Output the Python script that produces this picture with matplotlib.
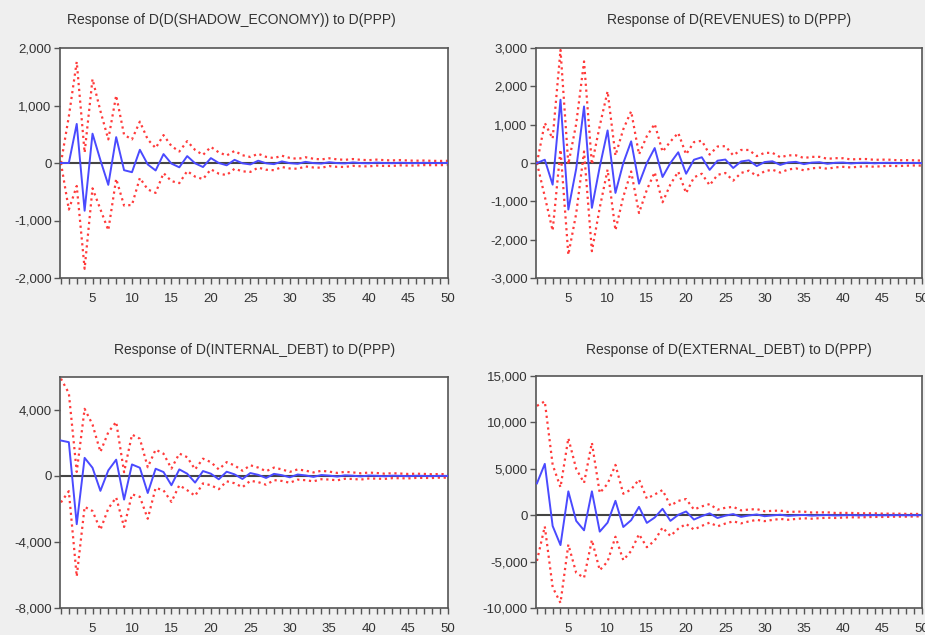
import matplotlib.pyplot as plt
from matplotlib.ticker import FuncFormatter, MultipleLocator

plt.rcParams['font.family'] = ['Liberation Sans', 'DejaVu Sans']

periods = list(range(1, 51))

# impulse responses to a D(PPP) shock and their +/- 2 S.E. widths
resp_shadow = [0, 0, 680, -830, 510, 50, -380, 450, -125, -160,
               230, -25, -130, 155, -10, -75, 120, -5, -70, 85,
               0, -40, 55, -5, -25, 40, -5, -20, 28, -3,
               -14, 20, -2, -10, 14, -2, -7, 10, -1, -5,
               7, -1, -3, 5, -1, -2, 3, 0, -1, 2]
se2_shadow = [0, 810, 1080, 1010, 950, 855, 790, 725, 615, 570,
              490, 435, 390, 330, 305, 275, 260, 232, 210, 195,
              185, 170, 155, 140, 130, 120, 112, 105, 98, 92,
              86, 80, 76, 72, 68, 65, 62, 59, 56, 54,
              52, 50, 48, 46, 44, 42, 40, 38, 37, 36]

resp_revenues = [0, 85, -565, 1650, -1215, -150, 1475, -1170, -100, 850,
                 -780, 0, 565, -540, 0, 390, -365, 0, 280, -280,
                 85, 150, -180, 60, 90, -130, 40, 70, -80, 25,
                 45, -50, 15, 30, -30, 10, 20, -20, 6, 12,
                 -12, 4, 8, -8, 3, 5, -5, 2, 3, -3]
se2_revenues = [0, 960, 1200, 1300, 1180, 1170, 1175, 1130, 1070, 1020,
                975, 880, 785, 765, 700, 630, 660, 560, 505, 505,
                460, 430, 400, 370, 350, 330, 300, 270, 260, 240,
                220, 200, 185, 170, 160, 150, 140, 130, 120, 112,
                105, 100, 95, 90, 85, 80, 76, 72, 68, 65]

resp_internal = [2150, 2050, -2920, 1100, 500, -900, 340, 990, -1430, 700,
                 500, -1030, 440, 240, -560, 400, 140, -400, 300, 140,
                 -200, 260, 100, -180, 180, 70, -120, 130, 50, -80,
                 90, 35, -55, 60, 25, -38, 42, 18, -26, 28,
                 12, -18, 19, 8, -12, 13, 5, -8, 9, 4]
se2_internal = [3750, 2970, 3170, 2970, 2620, 2360, 2310, 2290, 1660, 1810,
                1760, 1560, 1160, 1110, 1010, 960, 1000, 800, 750, 700,
                600, 580, 540, 500, 470, 440, 410, 380, 350, 330,
                310, 290, 270, 255, 240, 225, 210, 200, 190, 180,
                170, 160, 150, 142, 135, 128, 121, 115, 110, 105]

resp_external = [3430, 5530, -1160, -3220, 2570, -610, -1630, 2570, -1770, -800,
                 1550, -1270, -540, 900, -830, -250, 690, -610, 40, 400,
                 -470, -100, 200, -300, -50, 120, -180, -30, 80, -110,
                 -20, 50, -70, -12, 30, -45, -8, 20, -28, -5,
                 12, -18, -3, 8, -11, -2, 5, -7, -1, 3]
se2_external = [8350, 6740, 6600, 6230, 5730, 5600, 5110, 5240, 4160, 4190,
                3870, 3580, 3310, 2950, 2620, 2480, 2020, 1630, 1500, 1340,
                1080, 1050, 1000, 900, 850, 780, 700, 640, 580, 530,
                490, 450, 420, 390, 360, 335, 310, 290, 270, 250,
                235, 220, 205, 190, 180, 170, 160, 150, 140, 130]

titles = ["Response of D(D(SHADOW_ECONOMY)) to D(PPP)",
          "Response of D(REVENUES) to D(PPP)",
          "Response of D(INTERNAL_DEBT) to D(PPP)",
          "Response of D(EXTERNAL_DEBT) to D(PPP)"]
title_x = [231, 729, 255, 729]
title_y = [20, 20, 350, 350]

W, H = 925, 635
fig = plt.figure(figsize=(W / 100, H / 100), dpi=100, facecolor='#efefef')

# left, top, right, bottom in pixels
boxes = [(60, 48, 448, 278), (536, 48, 922, 278),
         (60, 377, 448, 608), (536, 376, 922, 608)]
ylims = [(-2000, 2000), (-3000, 3000), (-8000, 6000), (-10000, 15000)]
ysteps = [1000, 1000, 4000, 5000]
panels = [(resp_shadow, se2_shadow), (resp_revenues, se2_revenues),
          (resp_internal, se2_internal), (resp_external, se2_external)]

fmt = FuncFormatter(lambda v, p: f"{v:,.0f}")

for i in range(4):
    l, t, r, b = boxes[i]
    ax = fig.add_axes([l / W, 1 - b / H, (r - l) / W, (b - t) / H])
    resp, se2 = panels[i]
    upper = [a + s for a, s in zip(resp, se2)]
    lower = [a - s for a, s in zip(resp, se2)]
    ax.axhline(0, color='#444444', lw=1.5, zorder=1)
    ax.plot(periods, upper, color='#ff3b3b', ls=':', lw=1.6, zorder=2)
    ax.plot(periods, lower, color='#ff3b3b', ls=':', lw=1.6, zorder=2)
    ax.plot(periods, resp, color='#4a4aff', lw=1.4, zorder=3)
    ax.set_xlim(0.88, 50.05)
    ax.set_ylim(*ylims[i])
    ax.yaxis.set_major_locator(MultipleLocator(ysteps[i]))
    ax.yaxis.set_major_formatter(fmt)
    ax.xaxis.set_major_locator(MultipleLocator(5))
    ax.xaxis.set_minor_locator(MultipleLocator(1))
    ax.tick_params(axis='both', which='both', direction='out', length=4,
                   width=1, color='#555555', labelsize=9.5, labelcolor='#333333')
    ax.tick_params(axis='x', which='major', pad=7)
    ax.tick_params(axis='y', pad=2)
    for s in ax.spines.values():
        s.set_color('#555555')
        s.set_linewidth(1.2)
    ax.set_facecolor('white')
    fig.text(title_x[i] / W, 1 - title_y[i] / H, titles[i], ha='center',
             va='center', fontsize=10, color='#333333')

fig.savefig('out.png', dpi=100, facecolor=fig.get_facecolor())
